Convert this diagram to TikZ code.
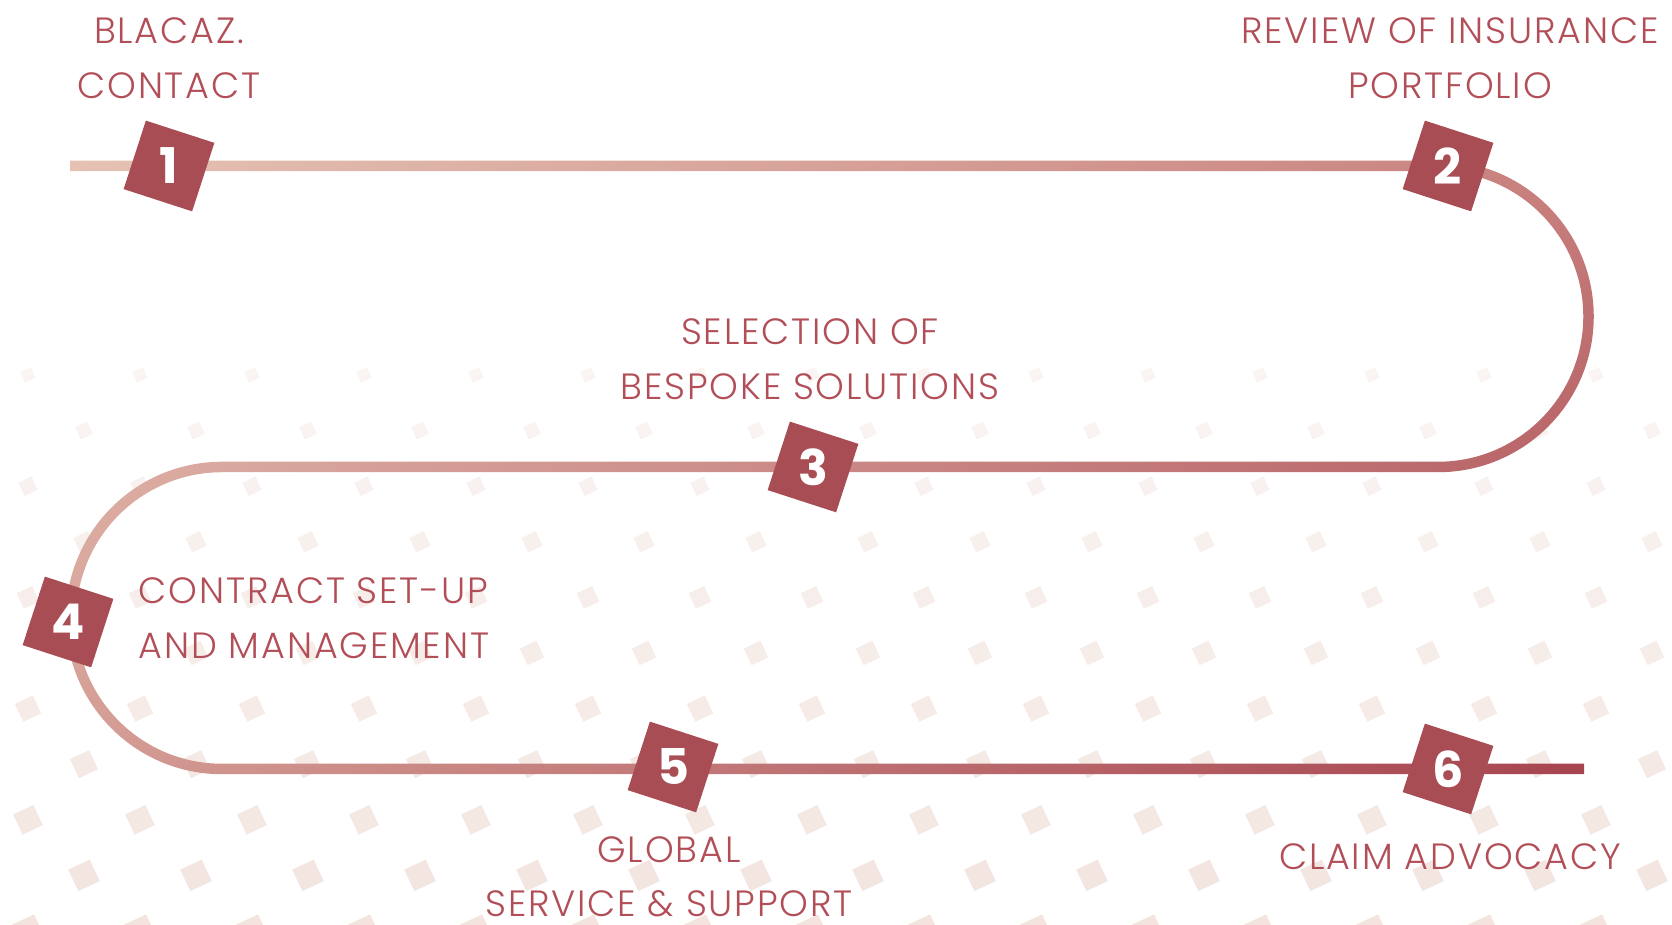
\documentclass[tikz,border=0pt]{standalone}
\usepackage{fontspec}
\setmainfont{Poppins}[UprightFont=* Light, BoldFont=* Bold, LetterSpace=5]
\usepackage{tikz}
\usetikzlibrary{positioning,shadings}
\definecolor{bzred}{RGB}{169,77,85}
\definecolor{bztext}{RGB}{178,78,88}
\definecolor{bzdot}{RGB}{236,214,206}
\definecolor{bzrouteA}{RGB}{229,195,180}
\definecolor{bzrouteB}{RGB}{200,128,125}
\definecolor{bzrouteC}{RGB}{212,156,148}
\definecolor{bzrouteD}{RGB}{166,68,79}
\tikzstyle{stepsq} = [rectangle, rotate=-18, minimum size=0.72cm, inner sep=0, fill=bzred, text=white, font=\bfseries\addfontfeature{LetterSpace=0}\fontsize{14}{14}\selectfont]
\tikzstyle{steplabel} = [align=center, inner sep=0, text=bztext, font=\fontsize{10.4}{15.5}\selectfont]
\newcommand{\stepno}[1]{\rotatebox{18}{#1}}

\begin{document}
\begin{tikzpicture}
    \useasboundingbox (0,0) rectangle (16.72,9.25);

    % background dots
    \foreach \r in {0,...,10} {
        \pgfmathsetmacro\yy{9.25-(3.75+0.556*\r)}
        \pgfmathsetmacro\xo{0.28+0.56*mod(\r,2)}
        \pgfmathsetmacro\ss{0.06+0.0065*\r}
        \pgfmathsetmacro\op{0.25+0.04*\r}
        \foreach \k in {0,...,14}
            \fill[bzdot, fill opacity=\op, shift={(\xo+1.12*\k,\yy)}, rotate=25] (-\ss,-\ss) rectangle (\ss,\ss);
    }

    % route (one outline, shaded)
    \shade[upper left=bzrouteA, upper right=bzrouteB, lower left=bzrouteC, lower right=bzrouteD]
        (0.70,7.6425) -- (14.38,7.6425)
        arc[start angle=90, end angle=-90, radius=1.5575] -- (2.22,4.5275)
        arc[start angle=90, end angle=270, radius=1.4575] -- (15.84,1.6125)
        -- (15.84,1.5075) -- (2.22,1.5075)
        arc[start angle=270, end angle=90, radius=1.5625] -- (14.38,4.6325)
        arc[start angle=-90, end angle=90, radius=1.4525] -- (0.70,7.5375) -- cycle;

    % steps
    \node[stepsq] (s1) at (1.69,7.59) {\stepno{1}};
    \node[stepsq] (s2) at (14.48,7.59) {\stepno{2}};
    \node[stepsq] (s3) at (8.13,4.58) {\stepno{3}};
    \node[stepsq] (s4) at (0.68,3.03) {\stepno{4}};
    \node[stepsq] (s5) at (6.73,1.58) {\stepno{5}};
    \node[stepsq] (s6) at (14.48,1.56) {\stepno{6}};

    % labels
    \node[steplabel] (l1) at (1.69,8.67) {BLACAZ.\\CONTACT};
    \node[steplabel] (l2) at (14.50,8.67) {REVIEW OF INSURANCE\\PORTFOLIO};
    \node[steplabel] (l3) at (8.10,5.66) {SELECTION OF\\BESPOKE SOLUTIONS};
    \node[steplabel, anchor=west, align=left] (l4) at (1.38,3.07) {CONTRACT SET-UP\\AND MANAGEMENT};
    \node[steplabel] (l5) at (6.69,0.48) {GLOBAL\\SERVICE \& SUPPORT};
    \node[steplabel] (l6) at (14.50,0.68) {CLAIM ADVOCACY};
\end{tikzpicture}
\end{document}
